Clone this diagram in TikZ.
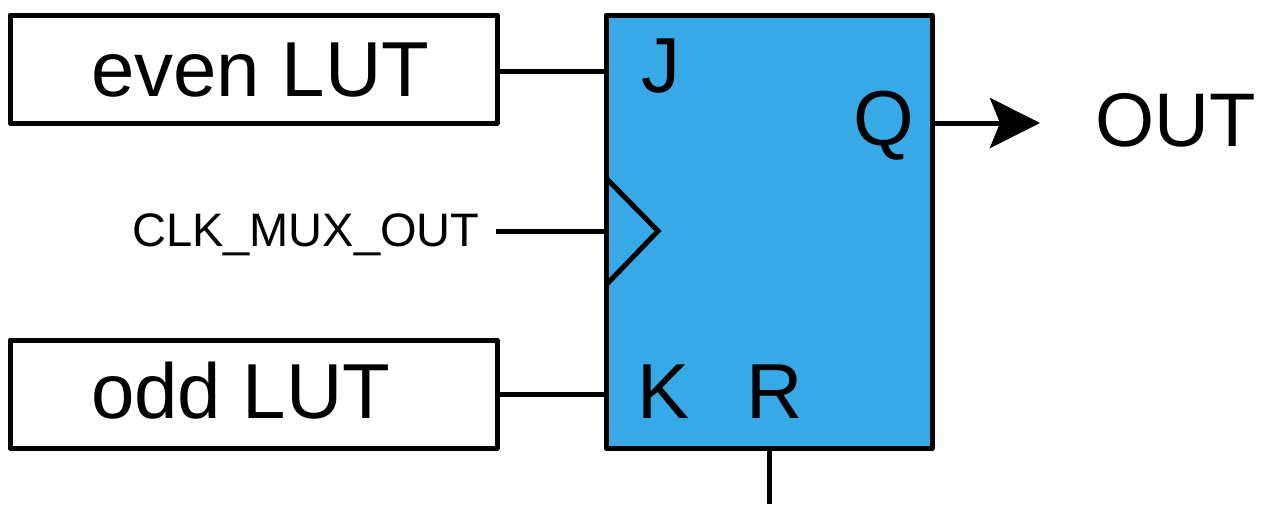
\documentclass[tikz,border=0pt]{standalone}
\usepackage{fontspec}
\setmainfont{Liberation Sans}
\usetikzlibrary{arrows.meta}
\definecolor{ffblue}{HTML}{36A9E6}
\tikzset{
  x=1pt,y=-1pt,
  wire/.style={draw=black,line width=5pt},
  lutbox/.style={draw=black,fill=white,line width=5pt,line join=round,rectangle,minimum width=487pt,minimum height=108pt,inner sep=0pt},
  ffbox/.style={draw=black,fill=ffblue,line width=5pt,line join=round,rectangle,minimum width=326pt,minimum height=433pt,inner sep=0pt},
  bigtext/.style={anchor=base west,inner sep=0pt,font=\fontsize{78}{78}\selectfont},
  outtext/.style={anchor=base west,inner sep=0pt,font=\fontsize{76}{76}\selectfont},
  smalltext/.style={anchor=base west,inner sep=0pt,font=\fontsize{47}{47}\selectfont},
  outarrow/.style={wire,-{Stealth[length=50pt,width=50pt,inset=10pt]}}
}
\begin{document}
\begin{tikzpicture}
\useasboundingbox (0,0) rectangle (1265,504);
\node[lutbox] (even) at (253.5,69) {};
\node[lutbox] (odd) at (253.5,394) {};
\node[ffbox] (ff) at (769,231.5) {};
\coordinate (clkin) at (496,231);
\coordinate (qout) at (1040,123);
\coordinate (rin) at (769,504);
\coordinate (evenin) at (497,71);
\coordinate (clktop) at (606,178);
\coordinate (clktip) at (658,231);
\coordinate (clkbot) at (606,285);
\draw[wire] (evenin) -- (evenin -| ff.west);
\draw[wire] (odd.east) -- (odd.east -| ff.west);
\draw[wire] (clkin) -- (clkin -| ff.west);
\draw[wire,line join=miter] (clktop) -- (clktip) -- (clkbot);
\draw[outarrow] (ff.east |- qout) -- (qout);
\draw[wire] (ff.south -| rin) -- (rin);
\node[bigtext] (evenlabel) at (91,96) {even LUT};
\node[bigtext] (oddlabel) at (91,418) {odd LUT};
\node[bigtext] (jlabel) at (641,92) {J};
\node[bigtext] (qlabel) at (853,145) {Q};
\node[bigtext] (klabel) at (637,418) {K};
\node[bigtext] (rlabel) at (746,418) {R};
\node[outtext] (outlabel) at (1095,146) {OUT};
\node[smalltext] (clklabel) at (132,246) {CLK\_MUX\_OUT};
\end{tikzpicture}
\end{document}
